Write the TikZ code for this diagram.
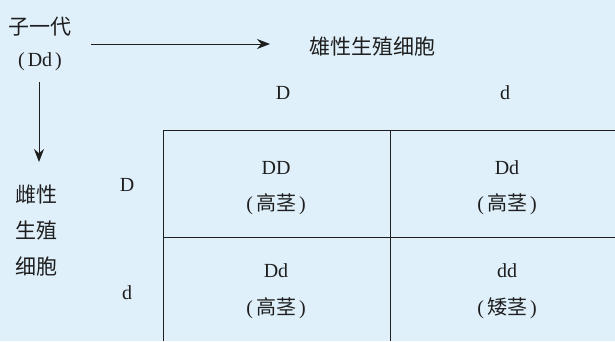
\documentclass[tikz,border=0pt]{standalone}
\usepackage{fontspec}
\setmainfont{Liberation Serif}
\newfontfamily\cjk{Noto Sans CJK SC}
\usetikzlibrary{arrows.meta}
\definecolor{bgblue}{HTML}{DFF0FA}
\definecolor{ink}{HTML}{1E1E1E}
\newcommand{\lp}{(\kern3pt}
\newcommand{\rp}{\kern3pt)}
\begin{document}
\begin{tikzpicture}[x=1pt,y=-1pt,
  lbl/.style={text=ink,font=\fontsize{20}{22}\selectfont,inner sep=0pt,anchor=center},
  zh/.style={text=ink,inner sep=0pt,anchor=center,font=\fontsize{21}{36}\selectfont\cjk},
  grid/.style={draw=ink,line width=0.9pt},
  arr/.style={draw=ink,line width=1pt,-{Stealth[length=13pt,width=10pt]}}]
\fill[bgblue] (0,0) rectangle (615,341);
\useasboundingbox (0,0) rectangle (615,341);
% top-left labels
\node[zh] (gen) at (40,27) {子一代};
\node[lbl] (gt) at (40,62) {\lp Dd\rp};
\coordinate (hs) at (91,44);
\coordinate (he) at (270,44);
\coordinate (vs) at (39,82);
\coordinate (ve) at (39,162);
\draw[arr] (hs) -- (he);
\draw[arr] (vs) -- (ve);
\node[zh] (male) at (372,47) {雄性生殖细胞};
\node[zh,align=center] (female) at (37,231) {雌性\\生殖\\细胞};
% gamete labels
\node[lbl] (mD) at (283,93) {D};
\node[lbl] (md) at (505,93) {d};
\node[lbl] (fD) at (127,185) {D};
\node[lbl] (fd) at (127,293) {d};
% table
\draw[grid] (615,130) -- (163,130) -- (163,341);
\draw[grid] (390,130) -- (390,341);
\draw[grid] (163,237) -- (615,237);
% cells
\node[lbl] (c11a) at (276,168) {DD};
\node[lbl] (c11b) at (276,204) {\lp{\cjk 高茎}\rp};
\node[lbl] (c12a) at (507,168) {Dd};
\node[lbl] (c12b) at (507,204) {\lp{\cjk 高茎}\rp};
\node[lbl] (c21a) at (276,271) {Dd};
\node[lbl] (c21b) at (276,308) {\lp{\cjk 高茎}\rp};
\node[lbl] (c22a) at (507,271) {dd};
\node[lbl] (c22b) at (507,308) {\lp{\cjk 矮茎}\rp};
\end{tikzpicture}
\end{document}
